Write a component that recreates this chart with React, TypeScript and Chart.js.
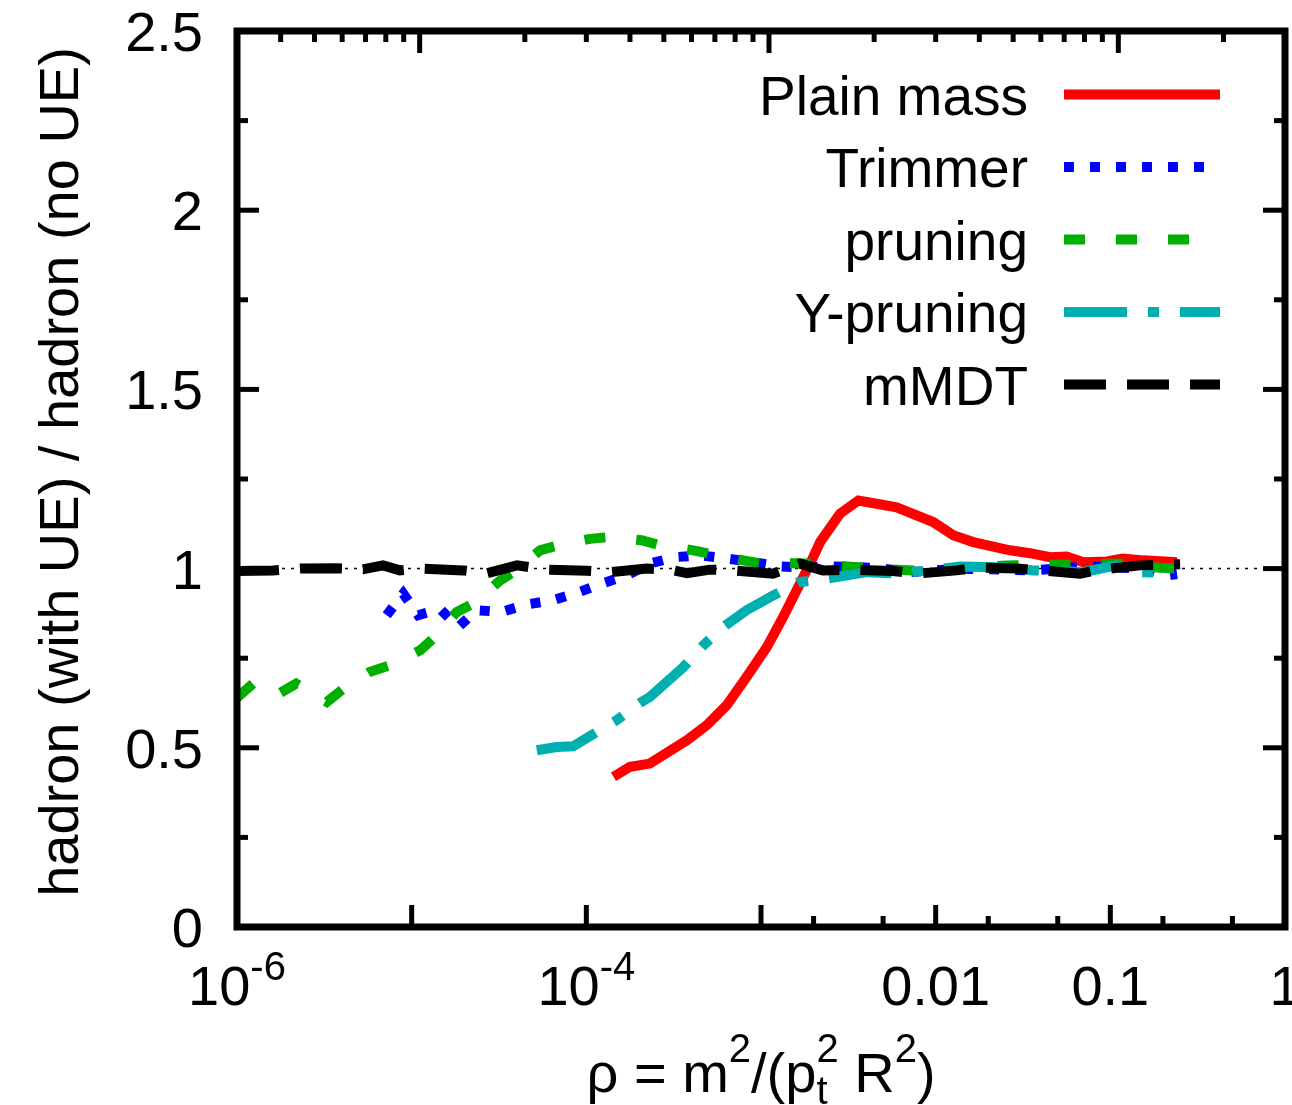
import React, { useEffect, useRef } from "react";
import { Chart, registerables } from "chart.js";

Chart.register(...registerables);

const FONT = '"Liberation Sans", Arial, Helvetica, sans-serif';

// ---- data (rho, ratio) ----
const plainX = [1.43e-4, 1.78e-4, 2.31e-4, 3.76e-4, 4.89e-4, 6.37e-4, 8.28e-4, 1.08e-3, 1.34e-3, 1.67e-3, 1.99e-3, 2.18e-3, 2.83e-3, 3.61e-3, 4.59e-3, 5.98e-3, 9.68e-3, 1.26e-2, 1.64e-2, 2.66e-2, 3.47e-2, 4.52e-2, 5.62e-2, 7.0e-2, 9.53e-2, 0.118, 0.154, 0.241];
const plainY = [0.419, 0.447, 0.456, 0.521, 0.563, 0.619, 0.698, 0.781, 0.865, 0.958, 1.032, 1.074, 1.153, 1.19, 1.181, 1.171, 1.13, 1.093, 1.074, 1.051, 1.043, 1.032, 1.034, 1.018, 1.02, 1.028, 1.023, 1.018];

const trimX = [7.19e-6, 8.95e-6, 1.09e-5, 1.45e-5, 1.85e-5, 2.35e-5, 3.27e-5, 4.56e-5, 6.34e-5, 8.81e-5, 1.225e-4, 1.7e-4, 2.31e-4, 3.22e-4, 4.48e-4, 6.37e-4, 8.99e-4, 1.285e-3, 1.74e-3, 2.48e-3, 3.55e-3, 4.99e-3, 7.13e-3, 1.38e-2, 3.61e-2, 7.35e-2, 0.154, 0.211, 0.241];
const trimY = [0.87, 0.93, 0.87, 0.888, 0.837, 0.884, 0.879, 0.9, 0.911, 0.932, 0.958, 0.981, 1.014, 1.032, 1.037, 1.028, 1.018, 1.006, 1.003, 1.006, 1.004, 1.0, 0.99, 1.0, 0.995, 1.006, 1.0, 0.981, 0.985];

const pruneX = [1.0e-6, 1.27e-6, 1.76e-6, 2.18e-6, 3.27e-6, 4.07e-6, 5.77e-6, 7.51e-6, 1.12e-5, 1.33e-5, 1.81e-5, 2.25e-5, 3.21e-5, 3.82e-5, 5.43e-5, 6.9e-5, 1.05e-4, 1.34e-4, 2.07e-4, 2.64e-4, 4.09e-4, 5.1e-4, 7.93e-4, 9.86e-4, 1.6e-3, 1.99e-3, 3.1e-3, 3.86e-3, 5.98e-3, 7.45e-3, 2.56e-2, 0.118, 0.185, 0.241];
const pruneY = [0.64, 0.684, 0.653, 0.679, 0.628, 0.665, 0.712, 0.73, 0.772, 0.805, 0.879, 0.902, 0.967, 0.99, 1.051, 1.065, 1.083, 1.088, 1.079, 1.065, 1.051, 1.041, 1.023, 1.015, 1.015, 1.013, 1.006, 1.003, 0.997, 0.995, 1.009, 1.014, 1.003, 1.0];

const ypruneX = [5.2e-5, 6.76e-5, 8.41e-5, 1.07e-4, 1.49e-4, 2.07e-4, 2.31e-4, 3.59e-4, 4.68e-4, 6.08e-4, 8.28e-4, 1.175e-3, 1.64e-3, 2.38e-3, 4.03e-3, 6.25e-3, 1.38e-2, 2.56e-2, 3.61e-2, 6.97e-2, 0.109, 0.148, 0.229];
const ypruneY = [0.493, 0.502, 0.504, 0.535, 0.577, 0.628, 0.642, 0.725, 0.786, 0.837, 0.884, 0.925, 0.962, 0.972, 0.99, 0.986, 1.006, 1.003, 0.995, 0.99, 1.009, 0.99, 0.987];

const mmdtX = [1.0e-6, 1.61e-6, 2.3e-6, 3.74e-6, 5.26e-6, 6.86e-6, 8.57e-6, 1.16e-5, 1.97e-5, 2.7e-5, 4.01e-5, 5.96e-5, 1.01e-4, 1.36e-4, 2.22e-4, 3.01e-4, 3.77e-4, 5.1e-4, 6.92e-4, 1.17e-3, 1.67e-3, 2.26e-3, 3.37e-3, 5.7e-3, 7.82e-3, 1.32e-2, 1.73e-2, 2.92e-2, 3.95e-2, 6.7e-2, 8.73e-2, 0.148, 0.251];
const mmdtY = [0.993, 0.995, 1.0, 1.001, 0.998, 1.009, 0.995, 1.0, 0.995, 0.987, 1.009, 0.997, 0.994, 0.99, 1.0, 0.997, 0.987, 0.997, 0.995, 0.986, 1.014, 0.995, 0.997, 0.993, 0.986, 0.995, 1.003, 1.0, 0.995, 0.986, 0.997, 1.009, 1.012];

const refX = [1e-6, 1];
const refY = [1, 1];

// ---- ticks / labels ----
const yMajorTicks = [0, 0.5, 1, 1.5, 2, 2.5];
const yTickLabels = ["0", "0.5", "1", "1.5", "2", "2.5"];
const yMinorTicks = [0.25, 0.75, 1.25, 1.75, 2.25];
const xMajorTicks = [1e-5, 1e-4, 1e-3, 1e-2, 1e-1];
const xMinorTicks = [2e-3, 5e-3, 2e-2, 5e-2, 0.2, 0.5];
const xLabelValues = [1e-6, 1e-4, 1e-2, 1e-1, 1];
const xLabelBase = ["10", "10", "0.01", "0.1", "1"];
const xLabelSup = ["-6", "-4", "", "", ""];
const topMajorTicks = [10, 100, 1000];
const topMinorTicks = [4, 5, 6, 7, 8, 9, 20, 30, 40, 50, 60, 70, 80, 90, 200, 300, 400, 500, 600, 700, 800, 900, 2000];

const seriesLabels = ["Plain mass", "Trimmer", "pruning", "Y-pruning", "mMDT"];
const seriesColors = ["#ff0000", "#0000ff", "#00b000", "#00b0b0", "#000000"];
const seriesDashes = [[], [10, 16], [21, 31], [63, 21, 11, 21], [42, 21]];

const framePlugin = {
  id: "gnuframe",
  afterDraw(chart: any) {
    const { ctx, chartArea: a, scales } = chart;
    const xs = scales.x, ys = scales.y, xt = scales.x2;
    const MAJ = 22, MIN = 11;
    ctx.save();
    ctx.strokeStyle = "#000";
    ctx.fillStyle = "#000";
    ctx.lineCap = "butt";
    ctx.setLineDash([]);
    ctx.lineWidth = 5;
    const seg = (x1: number, y1: number, x2: number, y2: number) => {
      ctx.beginPath();
      ctx.moveTo(x1, y1);
      ctx.lineTo(x2, y2);
      ctx.stroke();
    };
    yMajorTicks.forEach((v) => {
      const p = ys.getPixelForValue(v);
      seg(a.left, p, a.left + MAJ, p);
      seg(a.right, p, a.right - MAJ, p);
    });
    yMinorTicks.forEach((v) => {
      const p = ys.getPixelForValue(v);
      seg(a.left, p, a.left + MIN, p);
      seg(a.right, p, a.right - MIN, p);
    });
    xMajorTicks.forEach((v) => {
      const p = xs.getPixelForValue(v);
      seg(p, a.bottom, p, a.bottom - MAJ);
    });
    xMinorTicks.forEach((v) => {
      const p = xs.getPixelForValue(v);
      seg(p, a.bottom, p, a.bottom - MIN);
    });
    topMajorTicks.forEach((v) => {
      const p = xt.getPixelForValue(v);
      seg(p, a.top, p, a.top + MAJ);
    });
    topMinorTicks.forEach((v) => {
      const p = xt.getPixelForValue(v);
      seg(p, a.top, p, a.top + MIN);
    });
    // frame
    ctx.lineWidth = 7;
    ctx.lineJoin = "miter";
    ctx.strokeRect(a.left, a.top, a.right - a.left, a.bottom - a.top);

    const F = 56, FS = 40, FL = 55;
    // y tick labels
    ctx.font = `${F}px ${FONT}`;
    ctx.textAlign = "right";
    ctx.textBaseline = "alphabetic";
    yMajorTicks.forEach((v, i) => {
      const p = ys.getPixelForValue(v);
      ctx.fillText(yTickLabels[i], a.left - 34, p + 20);
    });
    // x tick labels
    ctx.textAlign = "left";
    xLabelValues.forEach((v, i) => {
      const p = xs.getPixelForValue(v);
      ctx.font = `${F}px ${FONT}`;
      const wb = ctx.measureText(xLabelBase[i]).width;
      ctx.font = `${FS}px ${FONT}`;
      const wsup = xLabelSup[i] ? ctx.measureText(xLabelSup[i]).width : 0;
      const x0 = p - (wb + wsup) / 2;
      ctx.font = `${F}px ${FONT}`;
      ctx.fillText(xLabelBase[i], x0, a.bottom + 78);
      if (xLabelSup[i]) {
        ctx.font = `${FS}px ${FONT}`;
        ctx.fillText(xLabelSup[i], x0 + wb, a.bottom + 53);
      }
    });
    // x title: rho = m^2/(p_t^2 R^2)
    const pieces: [string, string][] = [
      ["ρ = m", "b"], ["2", "sup"], ["/(p", "b"], ["t|2", "stack"], [" R", "b"], ["2", "sup"], [")", "b"],
    ];
    const widthOf = (t: string, kind: string) => {
      if (kind === "b") { ctx.font = `${F}px ${FONT}`; return ctx.measureText(t).width; }
      ctx.font = `${FS}px ${FONT}`;
      if (kind === "stack") {
        const [s1, s2] = t.split("|");
        return Math.max(ctx.measureText(s1).width, ctx.measureText(s2).width);
      }
      return ctx.measureText(t).width;
    };
    let total = 0;
    pieces.forEach(([t, k]) => (total += widthOf(t, k)));
    let cx = (a.left + a.right) / 2 - total / 2;
    const base = a.bottom + 165;
    pieces.forEach(([t, k]) => {
      const w = widthOf(t, k);
      if (k === "b") {
        ctx.font = `${F}px ${FONT}`;
        ctx.fillText(t, cx, base);
      } else if (k === "sup") {
        ctx.font = `${FS}px ${FONT}`;
        ctx.fillText(t, cx, base - 30);
      } else {
        const [s1, s2] = t.split("|");
        ctx.font = `${FS}px ${FONT}`;
        ctx.fillText(s1, cx, base + 12);
        ctx.fillText(s2, cx, base - 30);
      }
      cx += w;
    });
    // y title
    ctx.save();
    ctx.translate(78, 472);
    ctx.rotate(-Math.PI / 2);
    ctx.font = `${F}px ${FONT}`;
    ctx.textAlign = "center";
    ctx.fillText("hadron (with UE) / hadron (no UE)", 0, 0);
    ctx.restore();

    // legend
    ctx.font = `${FL}px ${FONT}`;
    ctx.textAlign = "right";
    chart.data.datasets.forEach((ds: any, i: number) => {
      if (!ds.label) return;
      const ly = 94.5 + i * 72.5;
      ctx.fillStyle = "#000";
      ctx.fillText(ds.label, 1028, ly + 20);
      ctx.strokeStyle = ds.borderColor;
      ctx.lineWidth = ds.borderWidth;
      ctx.setLineDash(ds.borderDash || []);
      ctx.lineDashOffset = 0;
      seg(1064, ly, 1220, ly);
    });
    ctx.restore();
  },
};

export default function App() {
  const ref = useRef<HTMLCanvasElement>(null);
  useEffect(() => {
    const canvas = ref.current!;
    const pts = (xv: number[], yv: number[]) => xv.map((x, i) => ({ x, y: yv[i] }));
    const xsets = [plainX, trimX, pruneX, ypruneX, mmdtX];
    const ysets = [plainY, trimY, pruneY, ypruneY, mmdtY];
    const datasets: any[] = seriesLabels.map((lab, i) => ({
      label: lab,
      data: pts(xsets[i], ysets[i]),
      borderColor: seriesColors[i],
      backgroundColor: seriesColors[i],
      borderWidth: 10,
      borderDash: seriesDashes[i],
      borderCapStyle: "butt",
      borderJoinStyle: "miter",
      pointRadius: 0,
      tension: 0,
      fill: false,
      order: 4 - i,
    }));
    datasets.push({
      label: "",
      data: pts(refX, refY),
      borderColor: "#000000",
      borderWidth: 1.5,
      borderDash: [3, 6],
      pointRadius: 0,
      fill: false,
      order: 10,
    });
    const chart = new Chart(canvas, {
      type: "line",
      data: { datasets },
      options: {
        responsive: false,
        animation: false,
        devicePixelRatio: 1,
        layout: { padding: { left: 237, right: 7, top: 31, bottom: 178 } },
        plugins: { legend: { display: false }, tooltip: { enabled: false } },
        scales: {
          x: { type: "logarithmic", min: 1e-6, max: 1, display: false },
          x2: { type: "logarithmic", position: "top", min: 3, max: 3000, display: false },
          y: { type: "linear", min: 0, max: 2.5, display: false },
        },
      } as any,
      plugins: [framePlugin],
    });
    return () => chart.destroy();
  }, []);
  return (
    <div style={{ position: "absolute", left: 0, top: 0, width: 1292, height: 1105, background: "#fff" }}>
      <canvas ref={ref} width={1292} height={1105} style={{ display: "block" }} />
    </div>
  );
}
